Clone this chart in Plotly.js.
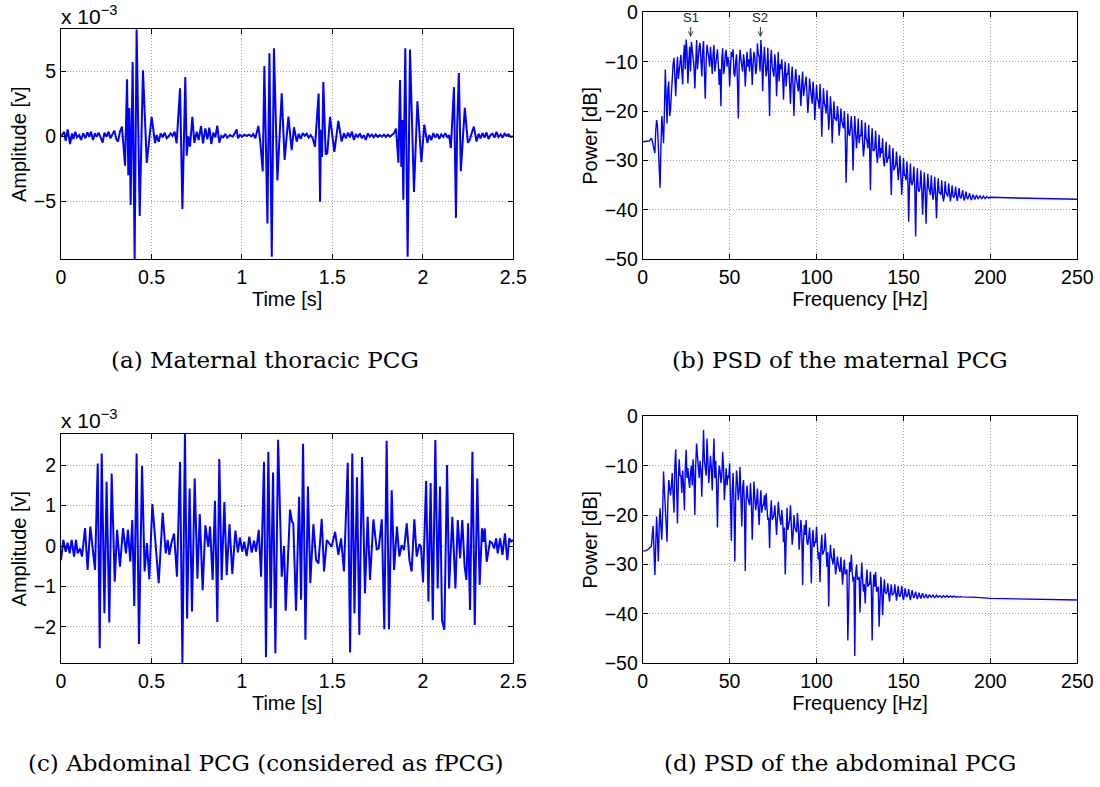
<!DOCTYPE html>
<html><head><meta charset="utf-8">
<script src="https://cdn.plot.ly/plotly-3.0.1.min.js"></script>
<style>html,body{margin:0;padding:0;background:#fff}#chart{width:1100px;height:787px}</style>
</head><body><div id="chart"></div>
<script>
// (a) Maternal thoracic PCG, amplitude in units of 1e-3 V
const timeA = [0,0.017,0.026,0.037,0.05,0.061,0.068,0.079,0.088,0.101,
0.111,0.123,0.135,0.146,0.157,0.166,0.177,0.188,0.197,0.208,
0.219,0.23,0.24,0.252,0.263,0.273,0.284,0.295,0.306,0.315,
0.326,0.337,0.354,0.365,0.372,0.378,0.385,0.396,0.407,0.418,
0.435,0.453,0.474,0.501,0.52,0.529,0.54,0.551,0.562,0.573,
0.584,0.593,0.606,0.617,0.628,0.639,0.658,0.671,0.687,0.695,
0.704,0.713,0.726,0.737,0.75,0.761,0.774,0.785,0.798,0.809,
0.82,0.831,0.842,0.853,0.864,0.875,0.886,0.897,0.908,0.919,
0.934,0.949,0.962,0.971,0.978,0.989,1.002,1.013,1.026,1.039,
1.052,1.063,1.074,1.082,1.091,1.102,1.115,1.124,1.131,1.141,
1.152,1.165,1.177,1.196,1.22,1.236,1.257,1.275,1.288,1.303,
1.314,1.325,1.336,1.347,1.358,1.369,1.38,1.391,1.404,1.424,
1.432,1.437,1.443,1.45,1.463,1.472,1.487,1.511,1.533,1.551,
1.564,1.575,1.586,1.597,1.608,1.619,1.63,1.641,1.652,1.663,
1.674,1.685,1.696,1.707,1.718,1.729,1.74,1.751,1.762,1.774,
1.785,1.796,1.807,1.818,1.829,1.84,1.852,1.865,1.874,1.881,
1.887,1.892,1.903,1.916,1.929,1.951,1.97,1.992,2.008,2.025,
2.036,2.047,2.058,2.069,2.08,2.091,2.102,2.113,2.124,2.136,
2.145,2.155,2.172,2.183,2.19,2.199,2.21,2.232,2.249,2.26,
2.271,2.282,2.297,2.308,2.319,2.33,2.341,2.352,2.363,2.374,
2.385,2.396,2.407,2.418,2.43,2.441,2.452,2.463,2.474,2.485,
2.5];
const ampA = [-0.03,0.36,-0.34,0.54,-0.59,0.23,-0.23,0.36,-0.08,0.1,
-0.28,0.23,-0.15,0.31,-0.03,0.36,-0.28,0.23,-0.03,0.28,
-0.08,-0.49,0.28,-0.03,0.36,-0.15,0.15,0.44,-0.23,-0.41,
0.36,0.75,-2.27,4.41,-3.0,2.19,-5.31,5.75,-9.5,8.27,
-6.16,5.1,-2.06,1.5,-0.52,0.1,-0.41,0.23,-0.08,0.28,
-0.15,-0.03,0.23,0.03,0.36,-0.54,3.71,-5.62,4.59,-1.5,
0.0,-0.8,1.5,-0.5,0.36,-0.28,0.8,-0.54,0.62,-0.23,
0.67,-0.59,0.28,-0.08,0.82,-0.49,0.03,-0.08,0.18,-0.1,
0.1,-0.03,0.28,0.54,-0.15,0.1,-0.03,0.13,0.03,0.13,
0.0,0.18,-0.15,0.36,0.8,-0.5,-2.71,5.44,-0.8,-6.73,
6.42,-9.3,6.8,-3.4,3.33,-1.83,1.52,-1.06,0.7,-0.41,
0.2,-0.2,0.25,0.05,0.2,-0.1,0.1,-0.15,-0.8,3.3,
-5.05,0.5,-1.6,4.2,-1.4,-1.3,1.5,-1.2,1.2,-0.4,
0.23,-0.15,0.28,-0.08,0.36,-0.28,0.18,-0.08,0.23,-0.15,
0.1,-0.28,0.23,-0.03,0.13,-0.08,0.15,-0.05,0.1,-0.03,
0.13,-0.05,0.13,-0.03,0.1,0.23,0.6,-2.04,4.36,-2.35,
1.26,-4.9,6.8,-9.3,6.7,-4.3,2.7,-2.0,0.9,-0.5,
0.1,-0.3,0.25,-0.1,0.2,-0.2,0.15,-0.05,0.25,-0.1,
0.1,-0.9,3.8,-6.3,0.9,4.9,-2.7,2.2,-0.5,-0.25,
0.3,0.75,-0.4,0.2,-0.15,0.25,-0.1,0.3,-0.2,0.1,
0.2,-0.1,0.35,-0.05,0.15,-0.1,0.2,0.05,0.15,-0.05,
0.0];

// (c) Abdominal PCG, amplitude in units of 1e-3 V
const timeC = [0,0.013,0.026,0.037,0.048,0.059,0.072,0.083,0.092,0.105,
0.116,0.133,0.147,0.162,0.188,0.203,0.214,0.225,0.24,0.252,
0.267,0.28,0.297,0.31,0.326,0.343,0.359,0.37,0.383,0.394,
0.405,0.418,0.431,0.448,0.462,0.475,0.488,0.505,0.521,0.54,
0.562,0.579,0.59,0.599,0.61,0.625,0.641,0.658,0.671,0.685,
0.697,0.711,0.724,0.739,0.754,0.767,0.783,0.798,0.814,0.824,
0.838,0.851,0.864,0.875,0.888,0.903,0.916,0.931,0.947,0.964,
0.978,0.989,1.002,1.013,1.026,1.041,1.054,1.067,1.078,1.093,
1.106,1.122,1.133,1.146,1.159,1.172,1.185,1.2,1.22,1.233,
1.242,1.266,1.277,1.284,1.299,1.316,1.327,1.338,1.351,1.365,
1.378,1.395,1.41,1.423,1.441,1.454,1.469,1.487,1.496,1.515,
1.533,1.548,1.564,1.585,1.598,1.61,1.622,1.636,1.649,1.664,
1.68,1.695,1.708,1.727,1.745,1.756,1.773,1.787,1.8,1.813,
1.828,1.841,1.857,1.87,1.883,1.896,1.911,1.926,1.938,1.953,
1.966,1.981,1.99,2.001,2.018,2.031,2.043,2.055,2.069,2.082,
2.095,2.106,2.119,2.134,2.145,2.163,2.18,2.193,2.206,2.218,
2.231,2.241,2.25,2.261,2.274,2.287,2.301,2.314,2.327,2.335,
2.342,2.353,2.371,2.383,2.394,2.405,2.414,2.427,2.44,2.454,
2.467,2.478,2.489,2.5];
const ampC = [-0.35,0.15,-0.14,0.08,-0.18,0.15,-0.26,0.15,-0.18,-0.06,
-0.26,0.44,-0.59,0.48,-0.59,2.04,-2.53,2.29,-1.66,1.59,
-1.89,1.79,-0.88,0.4,-0.51,0.44,-0.18,0.4,-0.39,0.64,
-1.48,2.29,-2.42,1.98,-0.63,0.07,-0.82,1.04,0.15,-0.92,
0.82,-0.18,0.15,-0.22,0.07,0.31,-0.76,2.08,-2.9,2.77,
-1.79,1.42,-1.62,1.67,-0.81,0.79,-1.09,0.51,-0.02,0.48,
-0.84,1.12,-1.88,2.15,-0.84,1.09,-0.72,0.54,-0.69,0.38,
-0.16,0.21,-0.14,0.11,-0.25,0.23,-0.16,0.13,-0.14,0.4,
-0.76,2.08,-2.75,2.33,-1.54,1.82,-2.65,2.63,-0.76,0,
-1.6,0.9,0.6,0.56,-1.6,1.22,-1.33,2.53,-2.32,1.47,
-0.92,0.54,-0.35,-0.43,0.67,-0.63,0.15,0.02,-0.02,0.35,
-0.22,0.19,-0.63,2.06,-2.63,2.29,-1.66,1.7,-2.2,2.2,
-1.17,0.72,-0.84,0.66,-0.08,-0.06,0.66,-2.06,2.6,-2.06,
1.38,-0.59,0.48,-0.26,0.02,-0.1,0.56,-0.35,-0.63,0.66,
-0.26,0.05,-0.02,-0.9,1.61,-1.37,1.56,-1.83,2.62,-1.05,
1.47,-1.84,-2.07,2.0,-1.05,0.72,-1.05,0.64,-0.3,0.64,
-0.51,-0.84,0.56,-1.58,2.33,-1.95,1.67,-0.96,0.44,0.1,
0.44,-0.39,0.11,0.07,-0.06,0.19,-0.18,0.19,-0.22,0.31,
-0.35,0.19,0.11,0.15];

// (b) PSD of maternal PCG in dB: values at whole Hz (0..200), values at half Hz (0.5..199.5), sparse tail
const psdB = [-26.2,-26.2,-26.2,-26.1,-26.0,-25.5,-27.0,-28.5,-21.8,-26.5,
-35.5,-21.0,-26.5,-11.6,-22.5,-14.0,-19.8,-12.0,-9.2,-17.0,
-9.0,-11.5,-8.6,-14.6,-6.6,-5.5,-14.4,-7.0,-6.0,-9.5,
-15.4,-5.6,-8.5,-6.2,-13.0,-5.8,-17.5,-6.6,-9.0,-7.0,
-12.5,-6.6,-10.0,-7.5,-14.7,-19.0,-7.3,-11.5,-7.6,-9.0,
-15.0,-8.0,-7.5,-13.0,-8.5,-21.5,-7.6,-11.0,-8.5,-15.0,
-8.0,-9.5,-7.3,-14.7,-8.0,-12.5,-6.3,-9.0,-5.6,-16.0,
-7.0,-13.0,-7.2,-21.0,-7.6,-12.0,-8.5,-17.0,-8.0,-10.5,
-9.5,-17.7,-10.0,-12.5,-10.3,-18.5,-11.0,-21.0,-11.5,-14.5,
-12.7,-19.0,-12.0,-15.5,-13.0,-20.4,-13.4,-17.0,-14.0,-21.8,
-14.7,-18.0,-14.5,-25.2,-15.4,-19.0,-15.8,-23.8,-17.0,-26.5,
-18.0,-21.5,-19.0,-25.0,-19.5,-23.0,-20.0,-34.5,-20.5,-25.0,
-21.0,-32.0,-21.0,-27.5,-21.5,-25.0,-21.8,-29.2,-22.3,-26.0,
-22.8,-36.0,-23.5,-28.0,-24.0,-30.5,-24.8,-27.5,-25.5,-31.2,
-26.2,-29.5,-26.8,-37.0,-27.5,-31.5,-28.2,-34.0,-29.0,-37.0,
-29.5,-33.0,-30.2,-42.4,-30.6,-35.0,-31.2,-45.4,-31.6,-36.3,
-32.0,-41.0,-32.4,-42.8,-32.7,-36.0,-33.0,-38.0,-33.3,-41.7,
-33.6,-36.5,-34.0,-38.3,-34.2,-37.0,-34.6,-38.3,-35.0,-37.5,
-35.3,-38.2,-35.6,-37.6,-36.0,-38.1,-36.3,-37.8,-36.6,-38.0,
-36.9,-37.9,-37.0,-37.8,-37.1,-37.7,-37.2,-37.7,-37.3,-37.6,
-37.45];
const psdBHalf = [-26.2,-26.2,-26.15,-26.05,-25.8,-26.0,-27.5,-24.0,-23.0,-30.0,
-27.0,-23.5,-20.0,-17.0,-15.5,-21.0,-16.5,-10.5,-13.0,-12.5,
-13.5,-10.0,-12.0,-9.0,-11.5,-8.0,-10.0,-12.0,-7.5,-11.0,
-9.0,-11.5,-7.0,-10.5,-8.0,-12.0,-10.0,-8.0,-11.0,-9.5,
-8.5,-12.0,-9.0,-10.5,-11.5,-9.5,-12.5,-8.5,-11.0,-10.0,
-11.0,-9.0,-12.5,-10.0,-14.0,-10.5,-9.5,-12.0,-10.0,-11.5,
-11.0,-12.0,-9.5,-10.5,-9.0,-11.5,-8.5,-12.0,-9.0,-10.5,
-10.0,-11.5,-13.5,-10.0,-11.0,-13.0,-10.5,-12.0,-14.0,-11.5,
-13.0,-12.5,-15.0,-12.5,-14.5,-13.5,-15.0,-14.5,-13.5,-16.0,
-15.5,-14.5,-17.0,-15.0,-16.5,-17.5,-15.5,-18.5,-16.5,-17.5,
-17.5,-19.5,-18.0,-20.0,-18.5,-20.5,-19.5,-21.0,-20.0,-22.0,
-21.5,-22.0,-21.0,-23.0,-22.0,-23.5,-24.0,-23.0,-24.5,-23.5,
-24.0,-25.5,-24.5,-25.0,-26.5,-25.0,-26.0,-27.0,-25.5,-27.5,
-27.0,-26.5,-28.0,-27.5,-28.5,-28.0,-29.5,-28.5,-30.0,-29.0,
-30.5,-29.5,-31.0,-30.5,-32.0,-31.0,-32.5,-32.0,-33.0,-33.5,
-33.0,-34.0,-33.5,-35.0,-34.5,-34.0,-35.5,-35.0,-36.0,-35.5,
-35.5,-36.5,-36.0,-36.5,-35.5,-37.0,-36.0,-36.5,-37.0,-36.5,
-36.5,-37.0,-36.8,-37.2,-36.5,-37.3,-37.0,-37.0,-37.2,-37.0,
-37.2,-37.0,-37.4,-37.1,-37.3,-37.2,-37.5,-37.3,-37.4,-37.5,
-37.4,-37.5,-37.4,-37.5,-37.45,-37.5,-37.45,-37.5,-37.45,-37.5];
const psdBTailFreq = [210, 225, 240, 250];
const psdBTail = [-37.55, -37.65, -37.78, -37.85];

// (d) PSD of abdominal PCG in dB: whole Hz (0..184), half Hz (0.5..183.5), sparse tail
const psdD = [-27.3,-27.3,-27.2,-27.0,-26.6,-26.3,-22.2,-32.1,-20.3,-29.4,
-18.6,-25.0,-11.2,-18.4,-25.4,-12.9,-16.0,-11.5,-19.5,-6.7,
-21.7,-8.7,-12.0,-11.0,-19.0,-6.8,-10.5,-14.5,-10.0,-8.7,
-20.0,-5.5,-11.0,-9.0,-16.3,-2.8,-10.5,-4.5,-13.5,-8.0,
-15.0,-4.5,-9.0,-22.5,-10.0,-13.5,-7.2,-17.0,-10.5,-12.0,
-9.5,-25.2,-11.5,-29.4,-11.0,-17.0,-10.2,-22.3,-12.9,-31.3,
-14.0,-17.5,-13.5,-25.0,-13.2,-19.0,-14.6,-22.0,-15.0,-18.0,
-16.0,-15.6,-21.0,-26.7,-17.0,-20.5,-18.0,-24.0,-17.3,-21.0,
-19.0,-25.5,-32.0,-18.5,-22.0,-18.0,-26.0,-20.0,-23.0,-19.6,
-27.0,-21.0,-34.2,-22.0,-21.0,-26.0,-22.5,-33.8,-23.0,-25.5,
-22.3,-29.0,-33.6,-24.0,-27.5,-23.7,-30.5,-38.5,-26.0,-29.0,
-26.7,-32.0,-28.4,-31.0,-28.5,-34.1,-29.0,-31.5,-45.4,-29.5,
-28.0,-33.5,-48.5,-30.0,-33.0,-39.7,-29.6,-35.5,-37.9,-31.0,
-34.0,-31.5,-45.4,-32.0,-31.5,-35.0,-42.6,-32.5,-40.2,-33.0,
-36.0,-33.8,-37.5,-34.0,-36.0,-34.0,-37.3,-34.3,-36.5,-34.3,
-37.2,-34.8,-36.5,-35.0,-37.2,-35.2,-36.8,-35.5,-37.0,-35.7,
-36.9,-35.8,-36.7,-36.0,-36.8,-36.1,-36.6,-36.2,-36.7,-36.2,
-36.6,-36.3,-36.7,-36.3,-36.6,-36.3,-36.6,-36.4,-36.6,-36.4,
-36.6,-36.45,-36.6,-36.5,-36.55];
const psdDHalf = [-27.3,-27.25,-27.1,-26.8,-26.5,-24.0,-27.0,-26.0,-24.5,-22.0,
-22.5,-19.0,-15.0,-22.0,-17.0,-14.5,-14.0,-16.0,-10.0,-14.0,
-13.0,-12.0,-15.5,-14.0,-10.5,-12.5,-13.0,-11.5,-14.0,-12.0,
-10.0,-8.0,-12.5,-11.0,-7.5,-9.0,-12.0,-9.5,-11.0,-10.5,
-9.0,-12.5,-14.0,-13.0,-11.0,-12.0,-10.5,-13.5,-14.0,-12.5,
-17.0,-15.0,-18.0,-16.0,-13.5,-15.0,-16.5,-14.5,-18.0,-17.0,
-16.5,-18.0,-17.0,-19.0,-16.5,-17.5,-18.5,-17.5,-19.5,-18.0,
-19.0,-18.5,-20.5,-19.5,-21.0,-20.0,-21.5,-20.5,-19.5,-22.0,
-21.0,-22.5,-21.5,-23.0,-21.0,-22.5,-24.0,-22.5,-23.5,-22.0,
-24.0,-23.5,-25.0,-24.0,-25.5,-24.5,-26.0,-25.0,-26.5,-25.5,
-26.0,-27.5,-26.5,-28.0,-27.0,-28.5,-27.5,-29.0,-28.5,-30.0,
-29.5,-30.5,-30.0,-31.5,-30.5,-31.0,-32.0,-31.0,-32.5,-31.5,
-31.5,-32.5,-32.0,-33.0,-32.5,-33.5,-33.0,-34.0,-33.5,-34.5,
-34.0,-34.5,-35.0,-34.5,-35.5,-34.5,-35.5,-35.0,-36.0,-35.5,
-35.5,-36.0,-35.5,-36.2,-35.8,-36.0,-35.8,-36.3,-35.9,-36.2,
-36.0,-36.3,-36.0,-36.4,-36.1,-36.3,-36.2,-36.4,-36.3,-36.5,
-36.3,-36.5,-36.4,-36.5,-36.4,-36.5,-36.45,-36.5,-36.45,-36.5,
-36.45,-36.5,-36.45,-36.5,-36.45,-36.5,-36.5,-36.5,-36.5,-36.5,
-36.5,-36.55,-36.5,-36.55];
const psdDTailFreq = [192, 200, 215, 230, 250];
const psdDTail = [-36.65, -36.85, -36.95, -37.05, -37.2];

const timeTicks = [0, 0.5, 1, 1.5, 2, 2.5];
const freqTicks = [0, 50, 100, 150, 200, 250];
const powerTicks = [-50, -40, -30, -20, -10, 0];
const ampATicks = [-5, 0, 5];
const ampCTicks = [-2, -1, 0, 1, 2];
const captions = ['(a) Maternal thoracic PCG', '(b) PSD of the maternal PCG',
                  '(c) Abdominal PCG (considered as fPCG)', '(d) PSD of the abdominal PCG'];
const peakLabels = ['S1', 'S2'];
const peakFreqs = [27.6, 67.7];
const peakTipDb = [-5.0, -5.0];

// merge whole-Hz and half-Hz readings into one spectrum, then the sparse tail
function spectrum(whole, half, tailF, tailV) {
  const f = [], v = [];
  whole.forEach((val, i) => {
    f.push(i); v.push(val);
    if (i < half.length) { f.push(i + 0.5); v.push(half[i]); }
  });
  return {f: f.concat(tailF), v: v.concat(tailV)};
}
const specB = spectrum(psdB, psdBHalf, psdBTailFreq, psdBTail);
const specD = spectrum(psdD, psdDHalf, psdDTailFreq, psdDTail);

const SANS = 'Liberation Sans, Arial, Helvetica, sans-serif';
const SERIF = 'DejaVu Serif, Liberation Serif, serif';
const BLUE = '#0000ff';
const tickFont = {family: SANS, size: 19.5, color: '#000'};
const titleFont = {family: SANS, size: 20, color: '#000'};

const line = (w) => ({color: BLUE, width: w});
const traces = [
  {x: timeA, y: ampA, xaxis: 'x', yaxis: 'y', mode: 'lines', line: line(2), hoverinfo: 'skip'},
  {x: specB.f, y: specB.v, xaxis: 'x2', yaxis: 'y2', mode: 'lines', line: line(1.4), hoverinfo: 'skip'},
  {x: timeC, y: ampC, xaxis: 'x3', yaxis: 'y3', mode: 'lines', line: line(2), hoverinfo: 'skip'},
  {x: specD.f, y: specD.v, xaxis: 'x4', yaxis: 'y4', mode: 'lines', line: line(1.4), hoverinfo: 'skip'}
];

const base = {
  showline: true, linecolor: '#000', linewidth: 1, mirror: 'ticks',
  ticks: 'inside', ticklen: 5, tickwidth: 1, tickcolor: '#000',
  showgrid: true, gridcolor: '#a0a0a0', griddash: '1px,2px', gridwidth: 1,
  zeroline: false, tickmode: 'array', tickfont: tickFont, fixedrange: true
};
const W = 1100, H = 787;
const dx = (a, b) => [a / W, b / W];
const dy = (top, bottom) => [1 - bottom / H, 1 - top / H];

const capAnn = (i, cx, cy) => ({xref: 'paper', yref: 'paper', x: cx / W, y: 1 - cy / H,
  xanchor: 'center', yanchor: 'middle', text: captions[i], showarrow: false,
  font: {family: SERIF, size: 23, color: '#000'}});

const layout = {
  width: W, height: H, margin: {l: 0, r: 0, t: 0, b: 0},
  paper_bgcolor: '#fff', plot_bgcolor: '#fff', showlegend: false,
  xaxis: Object.assign({}, base, {domain: dx(61, 513.3), range: [0, 2.5], tickvals: timeTicks, anchor: 'y',
    title: {text: 'Time [s]', font: titleFont, standoff: 0}}),
  yaxis: Object.assign({}, base, {domain: dy(29.3, 259.3), range: [-9.5, 8.27], tickvals: ampATicks, anchor: 'x',
    title: {text: 'Amplitude [v]', font: titleFont, standoff: 1}}),
  xaxis2: Object.assign({}, base, {domain: dx(642.7, 1077.3), range: [0, 250], tickvals: freqTicks, anchor: 'y2',
    title: {text: 'Frequency [Hz]', font: titleFont, standoff: 0}}),
  yaxis2: Object.assign({}, base, {domain: dy(12.3, 259.3), range: [-50, 0], tickvals: powerTicks, anchor: 'x2',
    title: {text: 'Power [dB]', font: titleFont, standoff: 1}}),
  xaxis3: Object.assign({}, base, {domain: dx(61, 513.3), range: [0, 2.5], tickvals: timeTicks, anchor: 'y3',
    title: {text: 'Time [s]', font: titleFont, standoff: 0}}),
  yaxis3: Object.assign({}, base, {domain: dy(434, 663.3), range: [-2.9, 2.77], tickvals: ampCTicks, anchor: 'x3',
    title: {text: 'Amplitude [v]', font: titleFont, standoff: 1}}),
  xaxis4: Object.assign({}, base, {domain: dx(642.7, 1077.3), range: [0, 250], tickvals: freqTicks, anchor: 'y4',
    title: {text: 'Frequency [Hz]', font: titleFont, standoff: 0}}),
  yaxis4: Object.assign({}, base, {domain: dy(416.3, 663.3), range: [-50, 0], tickvals: powerTicks, anchor: 'x4',
    title: {text: 'Power [dB]', font: titleFont, standoff: 1}}),
  annotations: [
    {xref: 'paper', yref: 'paper', x: 59 / W, y: 1 - 30 / H, xanchor: 'left', yanchor: 'bottom',
     text: 'x 10<sup>−3</sup>', showarrow: false, font: {family: SANS, size: 21, color: '#000'}},
    {xref: 'paper', yref: 'paper', x: 59 / W, y: 1 - 434 / H, xanchor: 'left', yanchor: 'bottom',
     text: 'x 10<sup>−3</sup>', showarrow: false, font: {family: SANS, size: 21, color: '#000'}},
    ...peakLabels.map((t, i) => ({xref: 'x2', yref: 'y2', x: peakFreqs[i], y: peakTipDb[i],
      ax: 0, ay: -19, text: t, showarrow: true, arrowhead: 5, arrowsize: 0.9, arrowwidth: 1,
      arrowcolor: '#333', standoff: 0, font: {family: SANS, size: 13, color: '#222'}})),
    capAnn(0, 265, 360), capAnn(1, 840, 360), capAnn(2, 266, 763), capAnn(3, 840, 763)
  ]
};

Plotly.newPlot('chart', traces, layout, {displayModeBar: false, staticPlot: true});
</script>
</body></html>
